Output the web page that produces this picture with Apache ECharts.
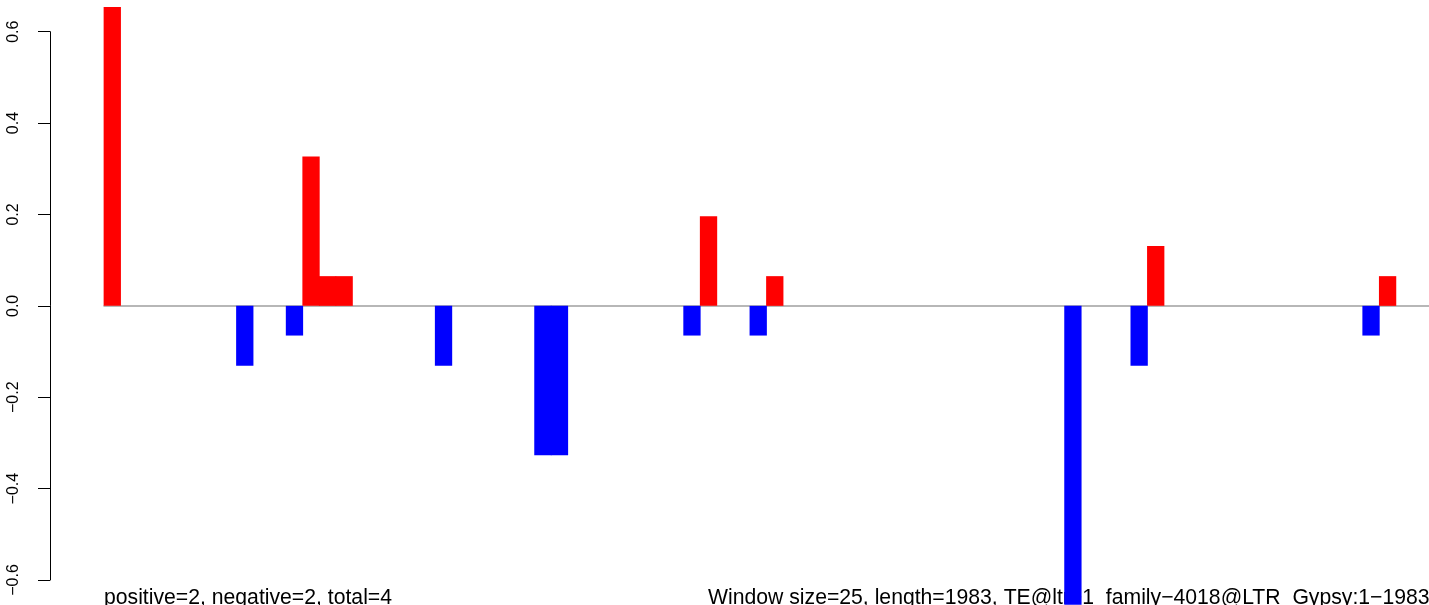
<!DOCTYPE html>
<html>
<head>
<meta charset="utf-8">
<script src="https://cdn.jsdelivr.net/npm/echarts@6/dist/echarts.min.js"></script>
<style>
html,body{margin:0;padding:0;background:#fff;}
#chart{width:1429px;height:605px;}
</style>
</head>
<body>
<div id="chart"></div>
<script>
// window index (80 windows of size 25 over length 1983)
const windows = ["1","2","3","4","5","6","7","8","9","10","11","12","13","14","15","16","17","18","19","20",
  "21","22","23","24","25","26","27","28","29","30","31","32","33","34","35","36","37","38","39","40",
  "41","42","43","44","45","46","47","48","49","50","51","52","53","54","55","56","57","58","59","60",
  "61","62","63","64","65","66","67","68","69","70","71","72","73","74","75","76","77","78","79","80"];

// positive (red) values per window (null = no bar)
const _ = null;
const positiveValues = [
  0.654,_,_,_,_,_,_,_,_,_,  _,_,0.327,0.065,0.065,_,_,_,_,_,
  _,_,_,_,_,_,_,_,_,_,      _,_,_,_,_,_,0.196,_,_,_,
  0.065,_,_,_,_,_,_,_,_,_,  _,_,_,_,_,_,_,_,_,_,
  _,_,_,0.131,_,_,_,_,_,_,  _,_,_,_,_,_,_,0.065,_,_
];

// negative (blue) values per window (null = no bar)
const negativeValues = [
  _,_,_,_,_,_,_,_,-0.131,_, _,-0.065,_,_,_,_,_,_,_,_,
  -0.131,_,_,_,_,_,-0.327,-0.327,_,_, _,_,_,_,_,-0.065,_,_,_,-0.065,
  _,_,_,_,_,_,_,_,_,_,      _,_,_,_,_,_,_,_,-0.654,_,
  _,_,-0.131,_,_,_,_,_,_,_, _,_,_,_,_,_,-0.065,_,_,_
];

const yTicks = [-0.6, -0.4, -0.2, 0.0, 0.2, 0.4, 0.6];
const summaryText = "positive=2, negative=2, total=4";
const infoText = "Window size=25, length=1983, TE@ltr\u22121_family\u22124018@LTR_Gypsy:1\u22121983";

const chart = echarts.init(document.getElementById('chart'), null, {renderer: 'canvas'});
const FONT = '"Liberation Sans", Arial, Helvetica, sans-serif';

chart.setOption({
  animation: false,
  backgroundColor: '#ffffff',
  grid: {left: 104, width: 1328, top: 31.7, height: 548.3, containLabel: false},
  xAxis: {
    type: 'category',
    data: windows,
    axisLine: {show: true, onZero: true, lineStyle: {color: '#a0a0a0', width: 1.5}},
    axisTick: {show: false},
    axisLabel: {show: false},
    splitLine: {show: false}
  },
  yAxis: {
    type: 'value',
    min: yTicks[0],
    max: yTicks[yTicks.length - 1],
    interval: 0.2,
    offset: 54,
    axisLine: {show: true, lineStyle: {color: '#000', width: 1}},
    axisTick: {show: true, length: 12, lineStyle: {color: '#000', width: 1}},
    splitLine: {show: false},
    axisLabel: {
      rotate: 90,
      margin: 28,
      fontSize: 16,
      fontFamily: FONT,
      color: '#000',
      formatter: v => v.toFixed(1).replace('-', '\u2212')
    }
  },
  series: [
    {
      type: 'bar', name: 'positive', stack: 'w', data: positiveValues,
      barWidth: 17.3, clip: false,
      itemStyle: {color: '#ff0000', borderWidth: 0, borderRadius: 0}, z: 3
    },
    {
      type: 'bar', name: 'negative', stack: 'w', data: negativeValues,
      barWidth: 17.3, clip: false,
      itemStyle: {color: '#0000ff', borderWidth: 0, borderRadius: 0}, z: 3
    }
  ],
  graphic: [
    {type: 'text', left: 104, top: 587.5, z: 0,
      style: {text: summaryText, font: '21.2px ' + FONT, fill: '#000'}},
    {type: 'text', left: 708, top: 587.5, z: 0,
      style: {text: infoText, font: '21.2px ' + FONT, fill: '#000'}}
  ]
});
</script>
</body>
</html>
